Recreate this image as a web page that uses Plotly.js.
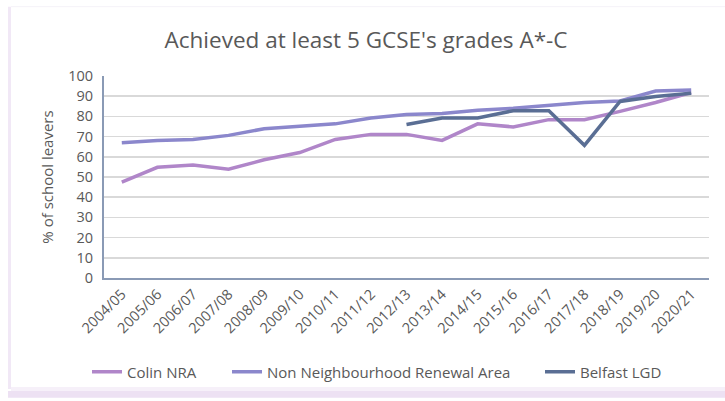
<!DOCTYPE html>
<html>
<head>
<meta charset="utf-8">
<script src="https://cdn.plot.ly/plotly-3.0.1.min.js"></script>
<style>html,body{margin:0;padding:0;background:#fff;}#chart{width:725px;height:401px;}</style>
</head>
<body>
<div id="chart"></div>
<script>
const years = ["2004/05","2005/06","2006/07","2007/08","2008/09","2009/10","2010/11","2011/12","2012/13","2013/14","2014/15","2015/16","2016/17","2017/18","2018/19","2019/20","2020/21"];
const colinNRA = [47.5,54.8,55.9,53.9,58.5,62.1,68.6,71.1,71.1,68.1,76.3,74.8,78.4,78.4,82.5,86.9,91.8];
const nonNRA = [67,68.1,68.6,70.6,73.9,75.2,76.3,79.2,80.9,81.4,83,84,85.5,86.9,87.6,92.6,93.1];
const belfastLGD = [null,null,null,null,null,null,null,null,76,79.2,79.2,82.8,82.8,65.7,87.4,89.9,91.5];
const yTicks = [0,10,20,30,40,50,60,70,80,90,100];

const font = "Open Sans, sans-serif";
const traces = [
  {x: years, y: colinNRA, name: "Colin NRA", type: "scatter", mode: "lines", line: {color: "#b086c9", width: 3.5}, legend: "legend"},
  {x: years, y: nonNRA, name: "Non Neighbourhood Renewal Area", type: "scatter", mode: "lines", line: {color: "#8b87cc", width: 3.5}, legend: "legend2"},
  {x: years, y: belfastLGD, name: "Belfast LGD", type: "scatter", mode: "lines", line: {color: "#5a6e94", width: 3.5}, connectgaps: false, legend: "legend3"}
];
const PW = 605, PH = 204;
const legBase = {orientation: "h", xanchor: "left", y: (280-375)/PH, yanchor: "middle", font: {size: 15, color: "#595959"}, itemwidth: 30, bgcolor: "rgba(0,0,0,0)", borderwidth: 0};
const layout = {
  width: 725, height: 401,
  margin: {l: 104, r: 16, t: 76, b: 121},
  paper_bgcolor: "#ffffff", plot_bgcolor: "#ffffff",
  font: {family: font, color: "#595959"},
  title: {text: "Achieved at least 5 GCSE's grades A*-C", x: 366/725, xanchor: "center", y: 1 - 40/401, yanchor: "middle", font: {family: font, size: 22.5, color: "#595959"}},
  xaxis: {type: "category", automargin: false, tickangle: -45, tickfont: {size: 14.5, color: "#595959"}, showgrid: false, showline: true, linecolor: "#8a9ab5", linewidth: 2, ticks: "", range: [-0.5, 16.5], fixedrange: true},
  yaxis: {automargin: false, range: [0, 100], tickvals: yTicks, ticktext: yTicks.map(String), tickfont: {size: 14.5, color: "#595959"}, showgrid: true, gridcolor: "#d9d9d9", gridwidth: 1.5, showline: true, linecolor: "#8a9ab5", linewidth: 2, zeroline: false, ticks: "", ticklabelstandoff: 6,
    title: {text: "% of school leavers", font: {size: 15, color: "#595959"}, standoff: 11}},
  showlegend: true,
  legend: Object.assign({}, legBase, {x: (87-104)/PW}),
  legend2: Object.assign({}, legBase, {x: (227-104)/PW}),
  legend3: Object.assign({}, legBase, {x: (540-104)/PW}),
  shapes: [
    {type: "rect", xref: "paper", yref: "paper", x0: -96/PW, x1: -93/PW, y0: (280-392)/PH, y1: (280-6)/PH, fillcolor: "#f1e8f6", line: {width: 0}, layer: "below"},
    {type: "rect", xref: "paper", yref: "paper", x0: -96/PW, x1: 1 + 16/PW, y0: -121/PH, y1: (280-394)/PH, fillcolor: "#ede1f3", line: {width: 0}, layer: "below"},
    {type: "rect", xref: "paper", yref: "paper", x0: -93/PW, x1: 1 + 16/PW, y0: (280-394)/PH, y1: (280-390)/PH, fillcolor: "#f6f0f9", line: {width: 0}, layer: "below"},
    {type: "line", xref: "paper", yref: "paper", x0: -93/PW, x1: 1 + 16/PW, y0: (280-6)/PH, y1: (280-6)/PH, line: {color: "#f5f2f8", width: 1}, layer: "below"}
  ]
};
Plotly.newPlot("chart", traces, layout, {staticPlot: true, displayModeBar: false});
</script>
</body>
</html>
